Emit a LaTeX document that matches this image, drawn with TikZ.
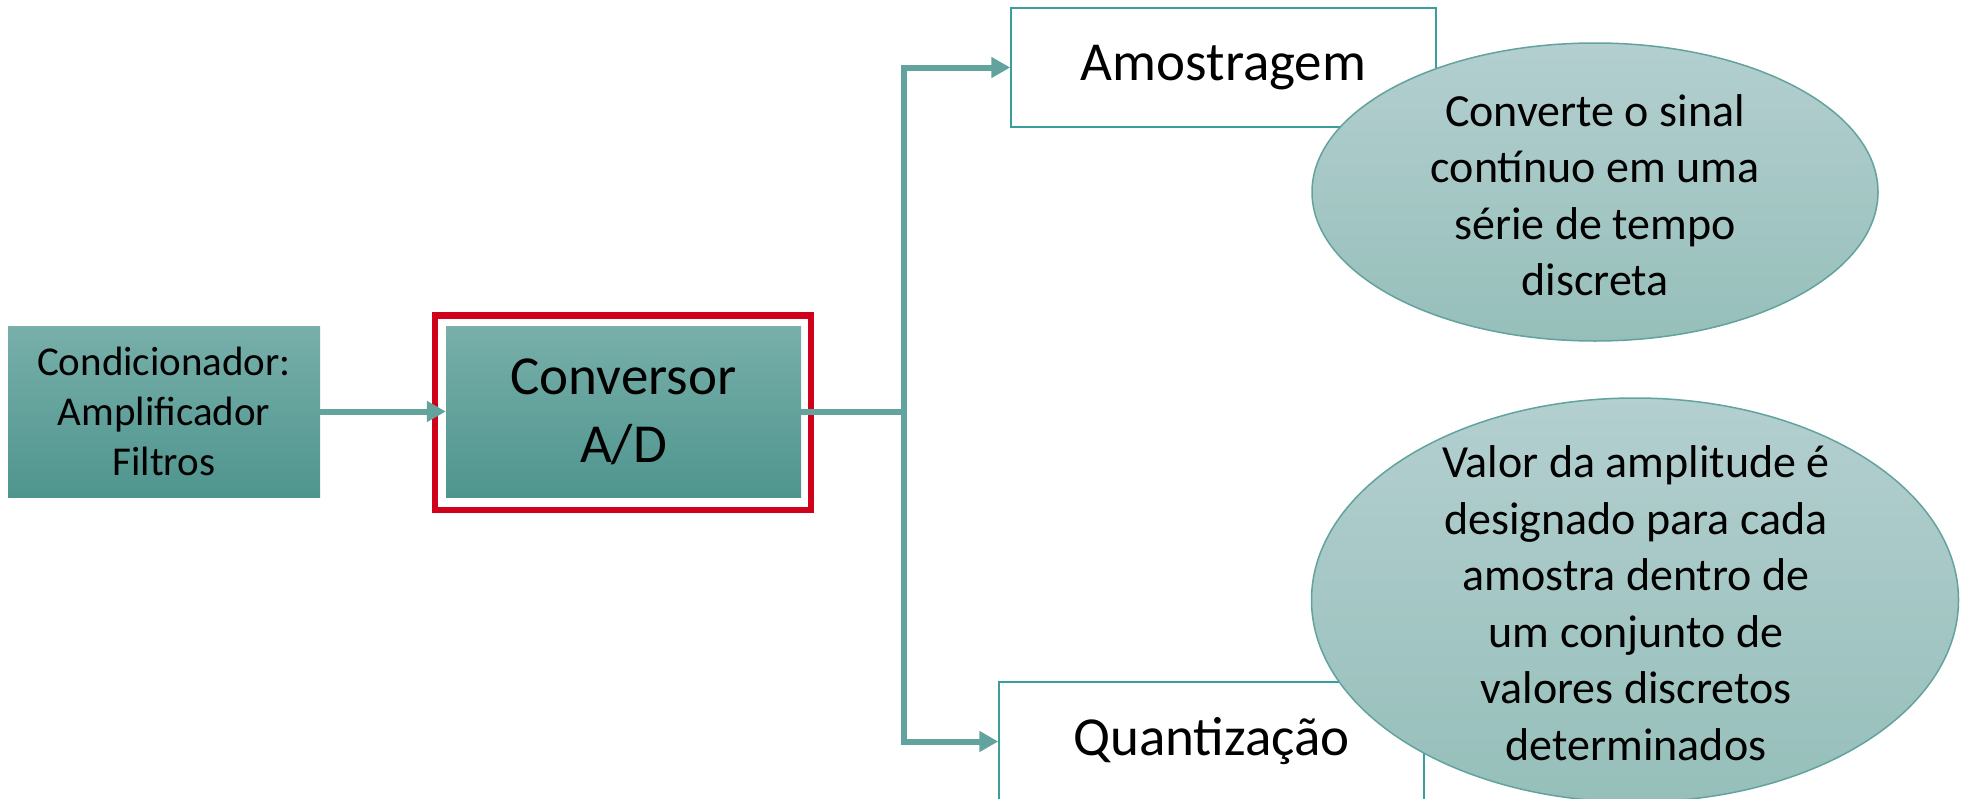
\documentclass[tikz,border=0pt]{standalone}
\usepackage{fontspec}
\setmainfont{Carlito}
\usetikzlibrary{arrows.meta,shapes.geometric}
\definecolor{boxtop}{HTML}{78AFAA}
\definecolor{boxbot}{HTML}{4F958E}
\definecolor{elltop}{HTML}{B3CFCF}
\definecolor{ellbot}{HTML}{96BFBA}
\definecolor{tealline}{HTML}{62A39D}
\definecolor{tealborder}{HTML}{3A9E9C}
\definecolor{redframe}{HTML}{D0021B}
\begin{document}
\begin{tikzpicture}[x=1pt,y=-1pt,
  gbox/.style={rectangle, inner sep=0pt, top color=boxtop, bottom color=boxbot, draw=none, align=center},
  wbox/.style={rectangle, inner sep=0pt, draw=tealborder, line width=1.5pt, fill=white, minimum width=425pt, minimum height=119pt, font=\fontsize{55}{67}\selectfont},
  bubble/.style={ellipse, inner sep=0pt, draw=tealline, line width=1.5pt, top color=elltop, bottom color=ellbot},
  btext/.style={align=center, inner sep=0pt, font=\fontsize{46}{56.5}\selectfont},
  conn/.style={draw=tealline, line width=6pt},
  tip/.style={-{Triangle[length=19pt,width=20pt]}}
]
\useasboundingbox (0,0) rectangle (1970,798);
\fill[white] (0,0) rectangle (1970,798);

\node[gbox, minimum width=312pt, minimum height=171pt, font=\fontsize{41}{50}\selectfont] (cond) at (164,411.5) {Condicionador:\\Amplificador\\Filtros};
\node[gbox, minimum width=355pt, minimum height=171pt, font=\fontsize{55}{68}\selectfont] (conv) at (623.5,411.5) {Conversor\\A/D};
\node[draw=redframe, line width=6.5pt, inner sep=0pt, minimum width=376pt, minimum height=194.5pt] (frame) at (623,412.75) {};

\node[wbox] (amo) at (1223.5,67.5) {Amostragem};
\node[wbox] (quant) at (1211.5,741.5) {Quantização};

\coordinate (j) at (904,411.5);
\draw[conn,tip] (cond) -- (conv);
\draw[conn] (conv.east) -- (j);
\draw[conn,tip] (j) |- (amo.west);
\draw[conn,tip] (j) |- (quant.west);

\node[bubble, minimum width=566pt, minimum height=298pt] (e1) at (1595,192) {};
\node[btext] (t1) at (1595,195) {Converte o sinal\\contínuo em uma\\série de tempo\\discreta};

\node[bubble, minimum width=647pt, minimum height=404pt] (e2) at (1635,600) {};
\node[btext] (t2) at (1636,603) {Valor da amplitude é\\designado para cada\\amostra dentro de\\um conjunto de\\valores discretos\\determinados};
\end{tikzpicture}
\end{document}
